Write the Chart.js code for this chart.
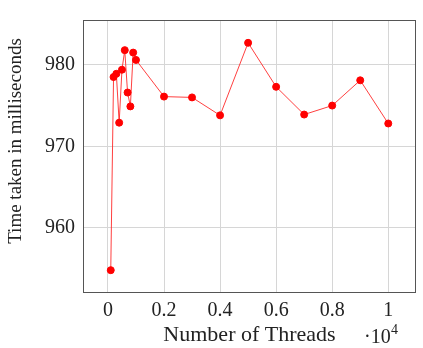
<!DOCTYPE html>
<html>
<head>
<meta charset="utf-8">
<script src="https://cdn.jsdelivr.net/npm/chart.js@4"></script>
<style>
  html,body{margin:0;padding:0;background:#fff;}
  #wrap{width:423px;height:348px;position:relative;}
</style>
</head>
<body>
<div id="wrap"><canvas id="chart"></canvas></div>
<script>
const threads=[100,200,300,400,500,600,700,800,900,1000,2000,3000,4000,5000,6000,7000,8000,9000,10000];
const times=[954.8,978.5,978.9,972.9,979.4,981.8,976.6,974.9,981.5,980.6,976.1,976.0,973.8,982.7,977.3,973.9,975.0,978.1,972.8];
const xTicks=[0,2000,4000,6000,8000,10000];
const yTicks=[960,970,980];

const serif='"Liberation Serif", "DejaVu Serif", serif';

// frame round the plot area, y title, and the "·10^4" scale note
const frame={
  id:'frame',
  beforeDatasetsDraw(chart){
    const a=chart.chartArea, c=chart.ctx;
    c.save();
    c.strokeStyle='#555';
    c.lineWidth=1;
    c.strokeRect(Math.round(a.left)+0.5,Math.round(a.top)+0.5,Math.round(a.right-a.left)-1,Math.round(a.bottom-a.top)-1);
    c.restore();
  },
  afterDraw(chart){
    const c=chart.ctx;
    c.save();
    c.fillStyle='#222';
    c.font='19px '+serif;
    c.textAlign='center';
    c.textBaseline='middle';
    c.translate(16,141);
    c.rotate(-Math.PI/2);
    c.fillText('Time taken in milliseconds',0,0);
    c.restore();
    c.save();
    c.fillStyle='#222';
    c.textBaseline='alphabetic';
    c.font='20px '+serif;
    c.fillText('\u00b710',364,343);
    c.font='14px '+serif;
    c.fillText('4',391,334);
    c.restore();
  }
};

const ctx=document.getElementById('chart');
new Chart(ctx,{
  type:'line',
  data:{datasets:[{
    data:threads.map((t,i)=>({x:t,y:times[i]})),
    borderColor:'rgba(255,30,30,0.85)',
    borderWidth:1,
    pointBackgroundColor:'#ff0000',
    pointBorderColor:'#ff0000',
    pointRadius:3.5,
    tension:0
  }]},
  options:{
    responsive:true,
    maintainAspectRatio:false,
    animation:false,
    layout:{padding:{top:14,right:7,left:0,bottom:0}},
    plugins:{legend:{display:false},tooltip:{enabled:false}},
    scales:{
      x:{
        type:'linear',
        min:-890,max:10990,
        afterBuildTicks:s=>{s.ticks=xTicks.map(v=>({value:v}));},
        afterFit:s=>{s.height=55;},
        grid:{color:'#d6d6d6',drawTicks:false},
        border:{display:false},
        ticks:{padding:6,color:'#222',font:{family:serif,size:20},callback:v=>String(v/10000)},
        title:{display:true,text:'Number of Threads',color:'#222',font:{family:serif,size:22},padding:{top:0,bottom:0}}
      },
      y:{
        min:952,max:985.5,
        afterBuildTicks:s=>{s.ticks=yTicks.map(v=>({value:v}));},
        afterFit:s=>{s.width=83;},
        grid:{color:'#d6d6d6',drawTicks:false},
        border:{display:false},
        ticks:{padding:8,color:'#222',font:{family:serif,size:20}}
      }
    }
  },
  plugins:[frame]
});
</script>
</body>
</html>
